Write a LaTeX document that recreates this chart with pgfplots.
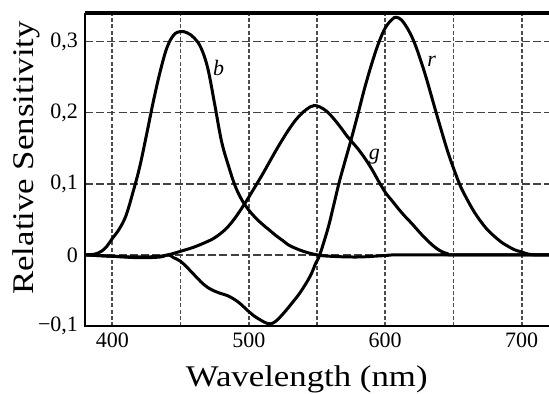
\documentclass[border=0pt]{standalone}
\usepackage{fontspec}
\setmainfont{Liberation Serif}
\newfontfamily\tickfont{Liberation Serif}
\newfontfamily\labelfont[FakeStretch=1.16]{Liberation Serif}
\usepackage{pgfplots}
\usepackage{pgfplotstable}
\pgfplotsset{compat=1.18}

\pgfplotstableread{
x y
380 0
387 0.001
392 0.005
396 0.012
400 0.023
405 0.036
410 0.055
415 0.087
420 0.123
425 0.168
430 0.215
435 0.257
440 0.291
445 0.309
450 0.314
455 0.312
460 0.305
465 0.291
470 0.262
475 0.212
480 0.160
485 0.126
490 0.097
495 0.077
500 0.063
505 0.052
510 0.043
515 0.035
520 0.027
525 0.020
530 0.013
540 0.005
550 0.000
560 -0.002
580 -0.003
600 -0.001
615 0
720 0
}\bdata

\pgfplotstableread{
x y
380 0
400 -0.002
420 -0.003
435 -0.002
441 0
450 0.005
460 0.011
470 0.019
475 0.024
480 0.031
485 0.040
490 0.052
495 0.066
500 0.081
505 0.097
510 0.113
515 0.130
520 0.147
525 0.163
530 0.178
535 0.191
540 0.201
545 0.208
548 0.210
552 0.208
557 0.202
562 0.192
567 0.180
572 0.167
576 0.158
580 0.149
585 0.136
590 0.121
595 0.104
600 0.088
605 0.076
610 0.064
615 0.053
620 0.043
625 0.032
630 0.022
635 0.013
640 0.006
645 0.002
650 0
720 0
}\gdata

\pgfplotstableread{
x y
380 0
400 -0.002
420 -0.004
435 -0.003
441 0
445 -0.004
450 -0.009
455 -0.018
460 -0.028
465 -0.038
470 -0.046
475 -0.051
479 -0.054
484 -0.057
489 -0.062
494 -0.069
499 -0.078
504 -0.086
509 -0.092
513 -0.096
516 -0.097
520 -0.093
526 -0.081
532 -0.067
538 -0.052
545 -0.030
549 -0.012
552 0
558 0.037
562 0.068
566 0.100
570 0.128
575 0.162
580 0.198
585 0.235
590 0.268
595 0.297
600 0.319
605 0.331
608 0.334
612 0.330
617 0.316
621 0.300
625 0.279
630 0.249
637 0.202
645 0.150
650 0.122
655 0.097
660 0.078
665 0.061
670 0.047
675 0.035
680 0.026
685 0.018
690 0.012
695 0.007
700 0.004
705 0.001
710 0
720 0
}\rdata

\begin{document}
\begin{tikzpicture}
\useasboundingbox (-42.5pt,-34pt) rectangle (232pt,163pt);
\begin{axis}[
  scale only axis, width=232pt, height=156.5pt,
  at={(0,0)}, anchor=south west,
  xmin=380, xmax=720, ymin=-0.1, ymax=0.34,
  clip=false,
  axis line style={draw=none},
  major tick length=0pt, minor tick length=0pt,
  xtick={400,450,500,550,600,650,700},
  xticklabels={400,,500,,600,,700},
  ytick={-0.1,0,0.1,0.2,0.3},
  yticklabels={{−0,1},0,{0,1},{0,2},{0,3}},
  xmajorgrids,
  major grid style={black!70, line width=0.95pt, dash pattern=on 2pt off 1.1pt},
  tick label style={font=\tickfont\fontsize{11}{11}\selectfont},
  xlabel={Wavelength (nm)},
  ylabel={Relative Sensitivity},
  xlabel style={font=\labelfont\fontsize{15}{15}\selectfont, at={(axis description cs:0.478,0)}, anchor=base, yshift=-30.5pt},
  ylabel style={font=\labelfont\fontsize{15}{15}\selectfont, at={(axis description cs:-0.112,0.537)}, anchor=base},
]
\pgfplotsinvokeforeach{0,0.1,0.2,0.3}{
  \draw[black!75, line width=0.9pt, dash pattern=on 4pt off 1.6pt] (axis cs:380,#1) -- (axis cs:720,#1);
}
\addplot[black, line width=1.5pt, smooth, tension=0.6] table[x=x,y=y] {\bdata};
\addplot[black, line width=1.5pt, smooth, tension=0.6] table[x=x,y=y] {\gdata};
\addplot[black, line width=1.5pt, smooth, tension=0.6] table[x=x,y=y] {\rdata};
\draw[black, line width=1pt] (rel axis cs:0,1) -- (rel axis cs:0,0) -- (rel axis cs:1,0);
\draw[black, line width=1.6pt] (rel axis cs:0,1) -- (rel axis cs:1,1);
\node[font=\tickfont\itshape\fontsize{11}{11}\selectfont] at (axis cs:478,0.263) {b};
\node[font=\tickfont\itshape\fontsize{11}{11}\selectfont] at (axis cs:592,0.138) {g};
\node[font=\tickfont\itshape\fontsize{11}{11}\selectfont] at (axis cs:634,0.272) {r};
\end{axis}
\end{tikzpicture}
\end{document}
